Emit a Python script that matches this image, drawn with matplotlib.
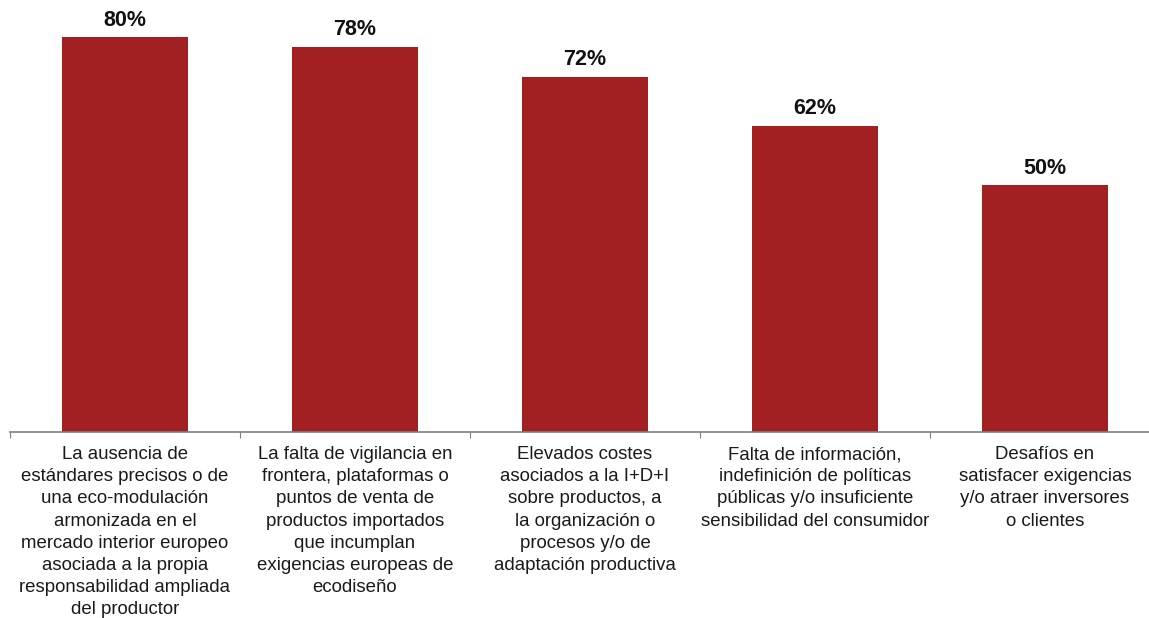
import matplotlib
matplotlib.use("Agg")
from matplotlib import pyplot as plt

categories = [
    "La ausencia de\nestándares precisos o de\nuna eco-modulación\narmonizada en el\nmercado interior europeo\nasociada a la propia\nresponsabilidad ampliada\ndel productor",
    "La falta de vigilancia en\nfrontera, plataformas o\npuntos de venta de\nproductos importados\nque incumplan\nexigencias europeas de\necodiseño",
    "Elevados costes\nasociados a la I+D+I\nsobre productos, a\nla organización o\nprocesos y/o de\nadaptación productiva",
    "Falta de información,\nindefinición de políticas\npúblicas y/o insuficiente\nsensibilidad del consumidor",
    "Desafíos en\nsatisfacer exigencias\ny/o atraer inversores\no clientes",
]
values = [80, 78, 72, 62, 50]

plt.rcParams['font.family'] = ['Liberation Sans', 'DejaVu Sans']

W, H = 1149, 618
fig = plt.figure(figsize=(W/100, H/100), dpi=100)
ax = fig.add_axes([10/W, 1 - 432/H, 1150/W, 432/H])

xs = range(len(values))
ax.bar(xs, values, width=0.55, color="#a21f22")
for x, v in zip(xs, values):
    ax.text(x, v + 1.3, "%d%%" % v, ha="center", va="bottom", fontsize=15.5,
            fontweight="bold", color="#111111")

for x, lab in zip(xs, categories):
    ax.text(x, -2.9, lab, ha="center", va="top", fontsize=13.4, color="#1a1a1a",
            linespacing=1.39)

ax.set_xlim(-0.5, 4.5)
ax.set_ylim(0, 80*432/395)
ax.set_xticks([-0.5, 0.5, 1.5, 2.5, 3.5])
ax.set_xticklabels([])
ax.tick_params(axis="x", length=4, color="#808080", direction="out")
ax.set_yticks([])
for s in ["top", "right", "left"]:
    ax.spines[s].set_visible(False)
ax.spines["bottom"].set_color("#808080")
ax.spines["bottom"].set_linewidth(1.2)

fig.savefig("out.png", dpi=100)
